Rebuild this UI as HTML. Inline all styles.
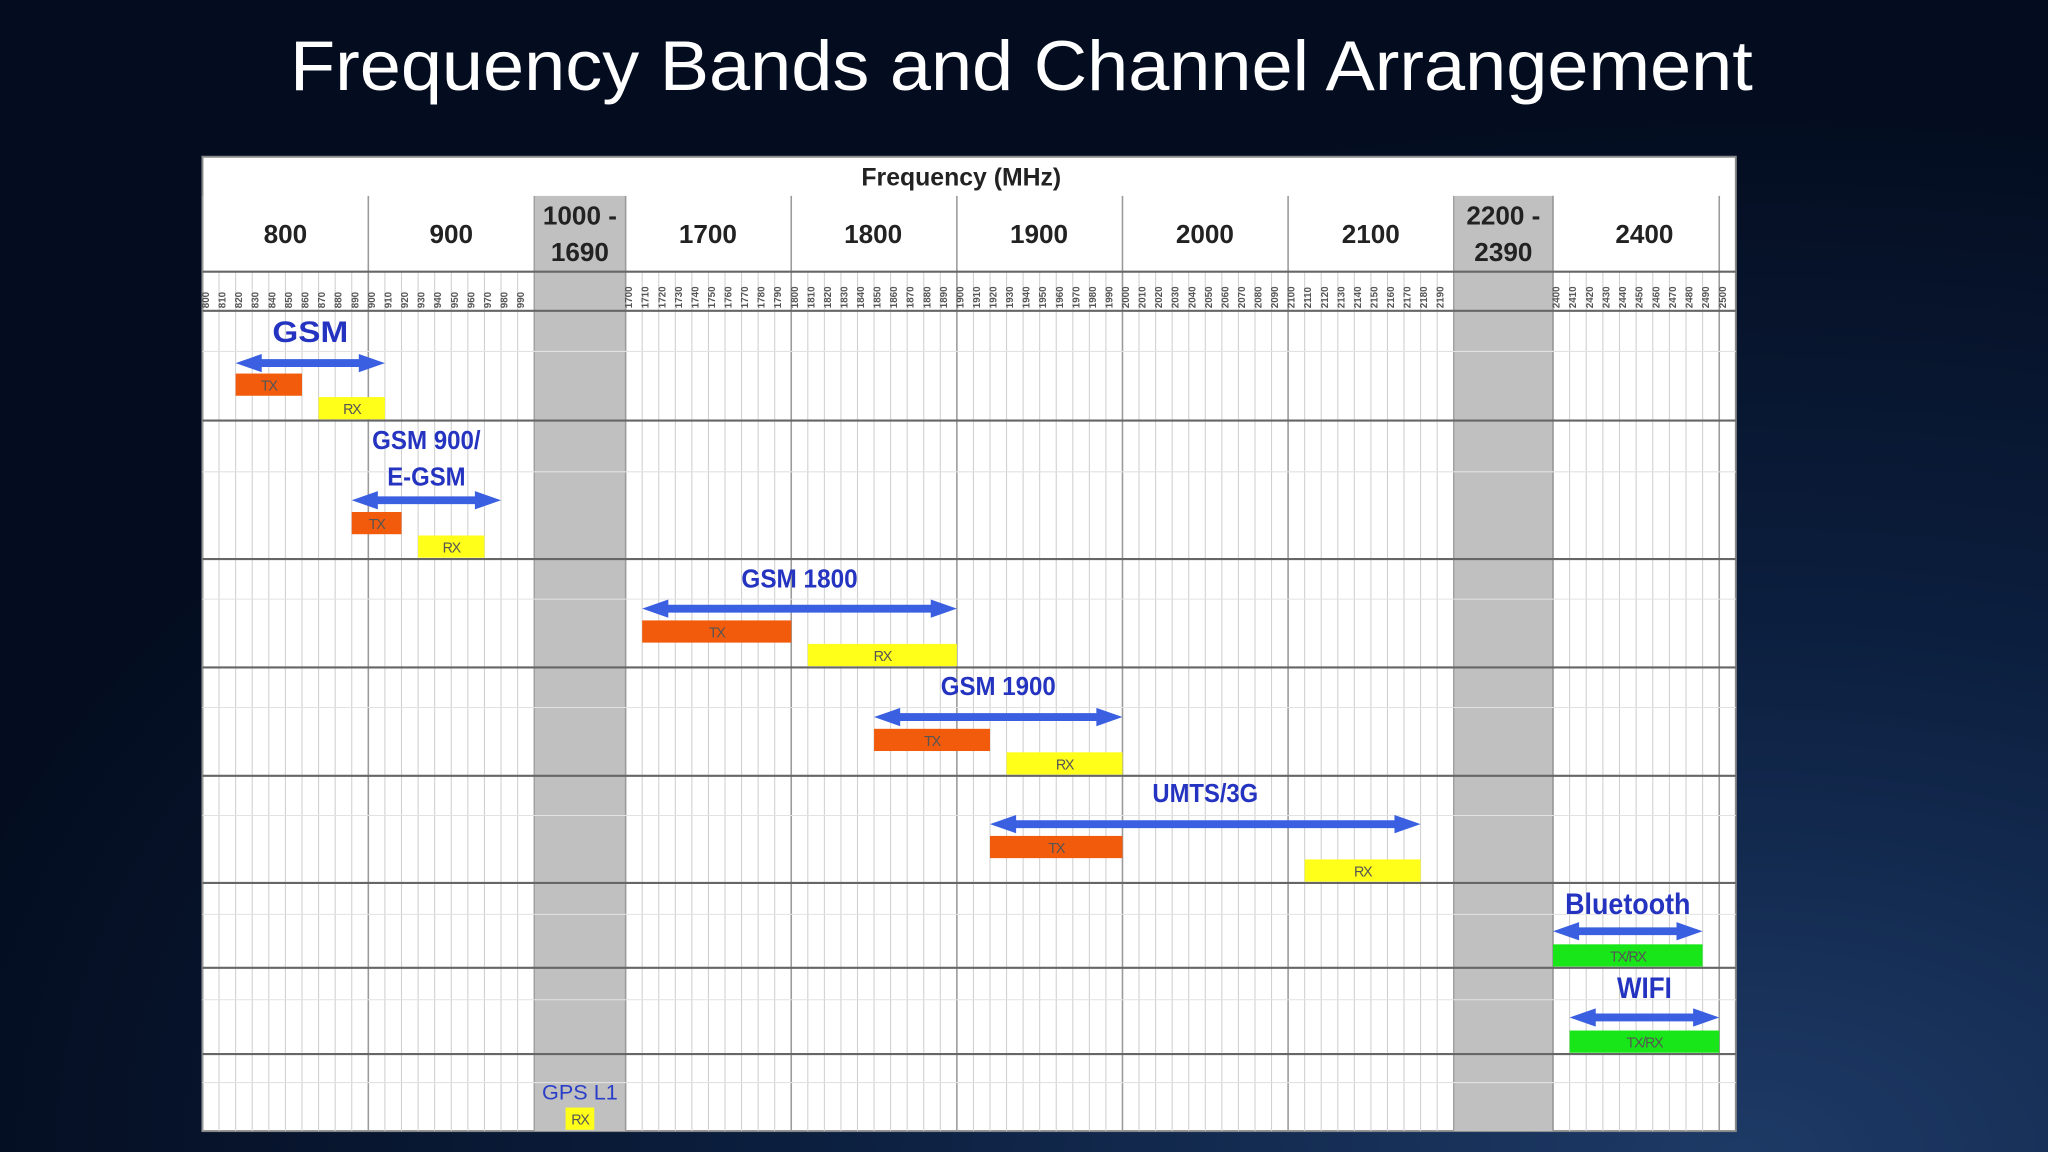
<!DOCTYPE html>
<html><head><meta charset="utf-8"><style>
html,body{margin:0;padding:0;width:2048px;height:1152px;overflow:hidden;background:#061228;}
svg{display:block}
</style></head><body>
<svg id="root" width="2048" height="1152" viewBox="0 0 1568 882" xmlns="http://www.w3.org/2000/svg">
<defs>
<radialGradient id="bg" cx="0.85" cy="1.0" r="0.9">
<stop offset="0" stop-color="#1d3a66"/><stop offset="0.5" stop-color="#0c1f3f"/><stop offset="1" stop-color="#040d20"/>
</radialGradient>
</defs>
<rect x="0" y="0" width="1568" height="882" fill="url(#bg)"/>
<text x="222" y="69" textLength="1120" lengthAdjust="spacingAndGlyphs" font-family="Liberation Sans, sans-serif" font-size="54" fill="#ffffff">Frequency Bands and Channel Arrangement</text>
<g id="chart"></g>
</svg>
<script>
// ---- data ----
const sectionLabels = ["800","900","1000 -|1690","1700","1800","1900","2000","2100","2200 -|2390","2400"];
const tickLow = [800,810,820,830,840,850,860,870,880,890,900,910,920,930,940,950,960,970,980,990];
const tickMid = [1700,1710,1720,1730,1740,1750,1760,1770,1780,1790,1800,1810,1820,1830,1840,1850,1860,1870,1880,1890,1900,1910,1920,1930,1940,1950,1960,1970,1980,1990,2000,2010,2020,2030,2040,2050,2060,2070,2080,2090,2100,2110,2120,2130,2140,2150,2160,2170,2180,2190];
const tickHigh = [2400,2410,2420,2430,2440,2450,2460,2470,2480,2490,2500];
const bandNames = ["GSM","GSM 900/|E-GSM","GSM 1800","GSM 1900","UMTS/3G","Bluetooth","WIFI","GPS L1"];
const arrowStart = [820,890,1710,1850,1920,2400,2410,null];
const arrowEnd   = [910,980,1900,2000,2180,2490,2500,null];
const txStart = [820,890,1710,1850,1920,null,null,null];
const txEnd   = [860,920,1800,1920,2000,null,null,null];
const rxStart = [870,930,1810,1930,2110,null,null,1575];
const rxEnd   = [910,970,1900,2000,2180,null,null,1575];
const trxStart = [null,null,null,null,null,2400,2410,null];
const trxEnd   = [null,null,null,null,null,2490,2500,null];

// ---- layout ----
const L=155,R=1329,T=120,B=866;
const rowTops=[238,322,428,511,594,676,741,807,866];
const labelWidths=[[58],[83,60],[89],[88],[81],[96],[42],[58]];
function fx(f){
  if(f<=1000) return 155+(f-800)*1.27;
  if(f<1575) return 409+(f-1000)/575*35;
  if(f<1700) return 444+(f-1575)/125*35;
  if(f<=2200) return 479+(f-1700)*1.268;
  if(f<2400) return 1113+(f-2200)/200*76;
  return 1189+(f-2400)*1.273;
}
const NS="http://www.w3.org/2000/svg";
const g=document.getElementById('chart');
function el(tag,attrs,parent){const e=document.createElementNS(NS,tag);for(const k in attrs)e.setAttribute(k,attrs[k]);(parent||g).appendChild(e);return e;}

const panel=el('rect',{x:L,y:T,width:R-L,height:B-T,fill:'#fff',stroke:'#888','stroke-width':1.5});



[[409,479],[1113,1189]].forEach((r,i)=>{
  const e=el('rect',{x:r[0],y:150,width:r[1]-r[0],height:B-150,fill:'#c0c0c0'});
  
  
});

const allTicks=tickLow.concat(tickMid,tickHigh);
allTicks.forEach(f=>{
  const x=fx(f);
  const major=(f%100===0);
  const e=el('line',{x1:x,x2:x,y1:major?150:208,y2:B,stroke:major?'#9a9a9a':'#cfcfcf','stroke-width':major?1.2:0.8});
  
  
});
[409,1113,1189].forEach(x=>{el('line',{x1:x,x2:x,y1:150,y2:B,stroke:'#9a9a9a','stroke-width':1});});

rowTops.slice(0,-1).forEach((y,i)=>{
  const h=rowTops[i+1]-y;
  el('line',{x1:L,x2:R,y1:y+h*0.37,y2:y+h*0.37,stroke:'#e2e2e2','stroke-width':0.8});
});

const ft=el('text',{x:736,y:142,'text-anchor':'middle','font-family':'Liberation Sans, sans-serif','font-size':19,'font-weight':'bold',fill:'#222'});
ft.textContent='Frequency (MHz)';


const secBounds=[155,282,409,479,605,732,859,986,1113,1189,1329];
sectionLabels.forEach((s,i)=>{
  const cx=(secBounds[i]+secBounds[i+1])/2;
  const parts=s.split('|');
  parts.forEach((p,j)=>{
    const y=parts.length>1?(172+j*28):186;
    const t=el('text',{x:cx,y:y,'text-anchor':'middle','font-family':'Liberation Sans, sans-serif','font-size':20,'font-weight':'bold',fill:'#222'});
    t.textContent=p;
    
    
  });
});
allTicks.forEach(f=>{
  const x=fx(f)+5;
  const t=el('text',{x:0,y:0,transform:`translate(${x},236) rotate(-90)`,'font-family':'Liberation Sans, sans-serif','font-size':7.5,'font-weight':'bold',fill:'#555'});
  t.textContent=String(f);
  
  
});
[208,238].concat(rowTops.slice(1,-1)).forEach(y=>{
  el('line',{x1:L,x2:R,y1:y,y2:y,stroke:'#666','stroke-width':1.6});
});

const labelFrac=[0.19,0.15,0.19,0.18,0.17,0.24,0.23,0.49];
function arrow(x1,x2,y,name){
  const h=7,hw=20,s=3;
  const d=`M${x1},${y} L${x1+hw},${y-h} L${x1+hw},${y-s} L${x2-hw},${y-s} L${x2-hw},${y-h} L${x2},${y} L${x2-hw},${y+h} L${x2-hw},${y+s} L${x1+hw},${y+s} L${x1+hw},${y+h} Z`;
  const p=el('path',{d:d,fill:'#3a5fe0'});
  
  
}
function block(a,b,y,h,col,label,name){
  let xs=fx(a),xe=fx(b);
  if(a===b){xs-=11;xe+=11;}
  const r=el('rect',{x:xs,y:y,width:xe-xs,height:h,fill:col});
  
  
  const t=el('text',{x:(xs+xe)/2,y:y+h-4,'text-anchor':'middle','font-family':'Liberation Sans, sans-serif','font-size':11,'letter-spacing':-1,fill:'#555'});
  t.textContent=label;
  
  
}
bandNames.forEach((n,i)=>{
  const top=rowTops[i],bot=rowTops[i+1],h=bot-top;
  const slug=n.split('|')[0].toLowerCase().replace(/[^a-z0-9]+/g,'-').replace(/-$/,'');
  let a0=arrowStart[i]!=null?arrowStart[i]:rxStart[i];
  let a1=arrowEnd[i]!=null?arrowEnd[i]:rxEnd[i];
  const cx=(fx(a0)+fx(a1))/2;
  const parts=n.split('|');
  const big=(i===0||i===5||i===6);
  parts.forEach((p,j)=>{
    const t=el('text',{x:cx,y:top+h*labelFrac[i]+(big?8:6)+j*28,'text-anchor':'middle','font-family':'Liberation Sans, sans-serif','font-size':i===7?16:(big?23:20),'font-weight':i===7?'normal':'bold',fill:i===7?'#2a3fc8':'#2433c0',textLength:labelWidths[i][j],lengthAdjust:'spacingAndGlyphs'});
    t.textContent=p;
    
    
  });
  if(arrowStart[i]!=null) arrow(fx(arrowStart[i]),fx(arrowEnd[i]),bot-(i>=5?28:(i===0?44:45)),'band-arrow-'+slug);
  if(txStart[i]!=null) block(txStart[i],txEnd[i],bot-36,17,'#f25a0c','TX','tx-band-'+slug);
  if(rxStart[i]!=null) block(rxStart[i],rxEnd[i],bot-18,17,'#ffff1a','RX','rx-band-'+slug);
  if(trxStart[i]!=null) block(trxStart[i],trxEnd[i],bot-18,17,'#19e619','TX/RX','txrx-band-'+slug);
});
</script>
</body></html>
